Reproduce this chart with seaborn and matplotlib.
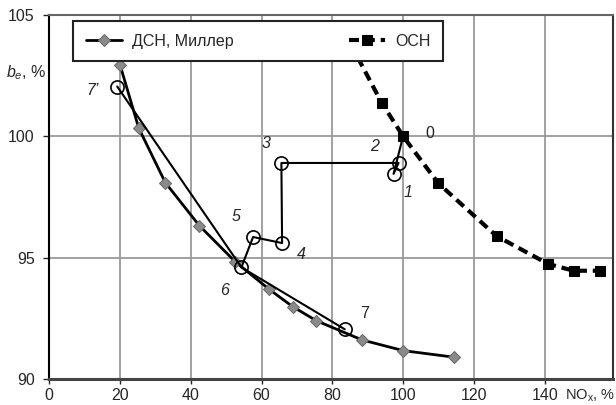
import matplotlib
matplotlib.use('Agg')
import matplotlib.pyplot as plt
import seaborn as sns

# ДСН, Миллер (gray diamonds)
dsn_x = [20.0, 25.3, 32.8, 42.4, 52.5, 62.1, 68.8, 75.5, 88.4, 100.0, 114.3]
dsn_y = [102.94, 100.33, 98.09, 96.32, 94.84, 93.70, 92.98, 92.40, 91.61, 91.17, 90.90]

# ОСН (black squares, dashed); first point sits behind the legend
osn_x = [83.0, 93.9, 100.0, 109.9, 126.4, 141.0, 148.2, 155.6]
osn_y = [104.4, 101.39, 100.0, 98.07, 95.89, 94.74, 94.46, 94.46]

# experimental points 0..7, 7'
exp_labels = ['0', '1', '2', '3', '4', '5', '6', '7', "7’"]
exp_x = [100.0, 97.3, 98.7, 65.6, 65.8, 57.6, 54.3, 83.5, 19.2]
exp_y = [100.0, 98.45, 98.9, 98.9, 95.6, 95.85, 94.6, 92.05, 102.05]

sns.set_style('white')
plt.rcParams['font.family'] = ['Liberation Sans', 'DejaVu Sans']
plt.rcParams['mathtext.fontset'] = 'custom'
plt.rcParams['mathtext.rm'] = 'Liberation Sans'
plt.rcParams['mathtext.it'] = 'Liberation Sans:italic'

fs = 11.5

fig = plt.figure(figsize=(6.16, 4.05), dpi=100)
ax = fig.add_axes([0.080, 0.0642, 0.915, 0.899])

sns.lineplot(x=dsn_x, y=dsn_y, sort=False, estimator=None, ax=ax, color='black',
             lw=2, marker='D', markersize=6, markerfacecolor='#8a8a8a',
             markeredgecolor='#6a6a6a', label='ДСН, Миллер', zorder=3)
sns.lineplot(x=osn_x, y=osn_y, sort=False, estimator=None, ax=ax, color='black',
             lw=3, linestyle=(0, (2.4, 1.4)), marker='s', markersize=7,
             markerfacecolor='black', markeredgecolor='black', label='ОСН', zorder=4)

# path 0-1-2-3-4-5-6 and 7'-6-7
path_a = [0, 1, 2, 3, 4, 5, 6]
path_b = [8, 6, 7]
sns.lineplot(x=[exp_x[i] for i in path_a], y=[exp_y[i] for i in path_a], sort=False,
             estimator=None, ax=ax, color='black', lw=1.5, zorder=3, legend=False)
sns.lineplot(x=[exp_x[i] for i in path_b], y=[exp_y[i] for i in path_b], sort=False,
             estimator=None, ax=ax, color='black', lw=1.5, zorder=3, legend=False)
ax.plot(exp_x[1:], exp_y[1:], linestyle='none', marker='o', markersize=9.5,
        markerfacecolor='none', markeredgecolor='black', markeredgewidth=1.2, zorder=5)

offsets = [(19, 2), (10.5, -13.5), (-17, 12), (-11, 14), (14, -8), (-12, 14.5),
           (-12.5, -17), (14.5, 11.5), (-17.5, -3)]
upright = {'0', '7'}
for lab, x, y, off in zip(exp_labels, exp_x, exp_y, offsets):
    ax.annotate(lab, (x, y), xytext=off, textcoords='offset points',
                ha='center', va='center', fontsize=fs,
                style='normal' if lab in upright else 'italic')

ax.set_xlim(0, 159.3)
ax.set_ylim(90, 105)
ax.set_xticks(range(0, 141, 20))
ax.set_yticks([90, 95, 100, 105])
ax.grid(True, color='#9a9a9a', lw=1.3)
ax.set_axisbelow(True)
ax.tick_params(axis='y', direction='out', length=4.5, width=1, pad=6, labelsize=fs, left=True)
ax.tick_params(axis='x', direction='out', length=3.5, width=1, pad=3, labelsize=fs, bottom=True)
for side, s in ax.spines.items():
    s.set_color('#333333')
    s.set_linewidth(1.5)
ax.spines['bottom'].set_linewidth(2.2)
ax.spines['bottom'].set_color('#444444')
ax.spines['left'].set_color('black')
ax.spines['top'].set_color('#666666')

leg = ax.legend(loc='upper left', bbox_to_anchor=(0.042, 0.984), borderaxespad=0,
                ncol=2, columnspacing=7.2, handlelength=2.3, handletextpad=0.6,
                borderpad=0.8, fontsize=fs, fancybox=False, shadow=False, framealpha=1)
leg.get_frame().set_edgecolor('#222222')
leg.get_frame().set_linewidth(1.5)
leg.set_zorder(10)

fig.text(0.010, 1 - 73 / 405, r'$b_e$, %', fontsize=fs, ha='left', va='center')
fig.text(0.998, 0.0235, r'NO$_\mathregular{x}$, %', fontsize=10.5, ha='right', va='center')

fig.savefig('out.png', dpi=100)
